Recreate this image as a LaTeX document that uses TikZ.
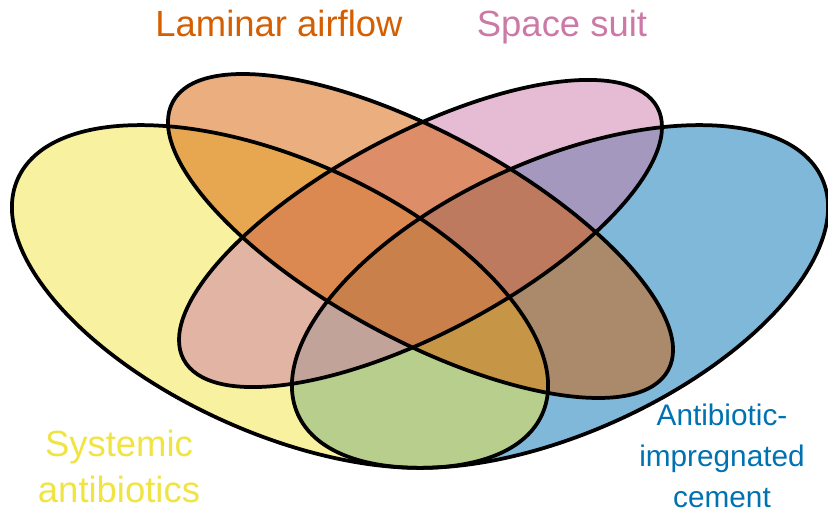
\documentclass[tikz,border=0pt]{standalone}
\usepackage{fontspec}
\setmainfont{Liberation Sans}
\definecolor{cyellow}{HTML}{F0E442}
\definecolor{corange}{HTML}{D55E00}
\definecolor{cpink}{HTML}{CC79A7}
\definecolor{cblue}{HTML}{0072B2}
\begin{document}
\begin{tikzpicture}[x=0.03cm,y=-0.03cm,
  setfill/.style={fill opacity=0.5},
  setline/.style={line width=3.2pt},
  biglabel/.style={font=\fontsize{31.1}{39.3}\selectfont, align=center, anchor=base},
  smalllabel/.style={font=\fontsize{25.4}{35}\selectfont, align=center, anchor=base}]
  \useasboundingbox (0,0) rectangle (828,514);

  % fills first, so that the outlines stay on top
  \fill[setfill, cblue, rotate around={24.2:(560,296.5)}] (560,296.5) ellipse [x radius=287.4, y radius=136.5];
  \fill[setfill, cyellow, rotate around={-24.2:(280,296.5)}] (280,296.5) ellipse [x radius=287.4, y radius=136.5];
  \fill[setfill, cpink, rotate around={28:(420.5,233.5)}] (420.5,233.5) ellipse [x radius=268.3, y radius=99.5];
  \fill[setfill, corange, rotate around={-28.45:(420.5,236)}] (420.5,236) ellipse [x radius=281.7, y radius=103.2];

  \draw[setline, rotate around={24.2:(560,296.5)}] (560,296.5) ellipse [x radius=287.4, y radius=136.5];
  \draw[setline, rotate around={-24.2:(280,296.5)}] (280,296.5) ellipse [x radius=287.4, y radius=136.5];
  \draw[setline, rotate around={28:(420.5,233.5)}] (420.5,233.5) ellipse [x radius=268.3, y radius=99.5];
  \draw[setline, rotate around={-28.45:(420.5,236)}] (420.5,236) ellipse [x radius=281.7, y radius=103.2];

  % the base of a two-line label is its last line
  \node[biglabel, text=corange] (laminar) at (279,37) {Laminar airflow};
  \node[biglabel, text=cpink] (suit) at (562,37) {Space suit};
  \node[biglabel, text=cyellow] (systemic) at (119,503) {Systemic\\antibiotics};
  \node[smalllabel, text=cblue] (cement) at (722,508) {Antibiotic-\\impregnated\\cement};
\end{tikzpicture}
\end{document}
